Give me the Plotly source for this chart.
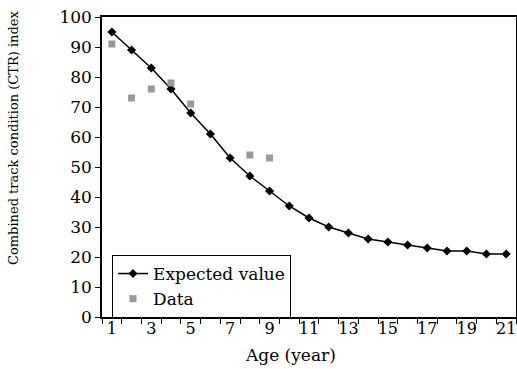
import plotly.graph_objects as go

age = list(range(1, 22))
expected = [95, 89, 83, 76, 68, 61, 53, 47, 42, 37, 33, 30, 28, 26, 25, 24, 23, 22, 22, 21, 21]
data_age = [1, 2, 3, 4, 5, 8, 9]
data_val = [91, 73, 76, 78, 71, 54, 53]
x_labels = [1, 3, 5, 7, 9, 11, 13, 15, 17, 19, 21]
y_ticks = list(range(0, 101, 10))

FONT = "DejaVu Serif"
L, R, T, B = 102, 1, 17, 52
PW, PH = 517 - L - R, 369 - T - B

fig = go.Figure()
fig.add_trace(go.Scatter(x=age, y=expected, mode="lines+markers", name="Expected value",
                         line=dict(color="black", width=1.5),
                         marker=dict(symbol="diamond", size=7, color="black")))
fig.add_trace(go.Scatter(x=data_age, y=data_val, mode="markers", name="Data",
                         marker=dict(symbol="square", size=7, color="#999999")))
# invisible trace on label axis
fig.add_trace(go.Scatter(x=[1], y=[0], xaxis="x2", mode="markers", opacity=0,
                         showlegend=False, hoverinfo="skip"))

fig.update_layout(
    width=517, height=369,
    margin=dict(l=L, r=R, t=T, b=B, autoexpand=False),
    plot_bgcolor="white", paper_bgcolor="white",
    font=dict(family=FONT, color="black", size=16),
    showlegend=True,
    legend=dict(x=(112 - L) / PW, y=(317 - 255) / PH, xanchor="left", yanchor="top",
                bordercolor="black", borderwidth=1, bgcolor="white",
                font=dict(size=17, family=FONT), tracegroupgap=0,
                itemwidth=30),
    xaxis=dict(range=[0.5, 21.5], tickmode="array",
               tickvals=[i + 0.5 for i in range(0, 22)], ticktext=[""] * 22,
               ticks="outside", ticklen=5, tickcolor="black",
               showline=True, linecolor="black", linewidth=1.5, mirror=True,
               showgrid=False, zeroline=False, automargin=False),
    xaxis2=dict(range=[0.5, 21.5], overlaying="x", side="bottom", tickmode="array",
                tickvals=x_labels, ticktext=[str(v) for v in x_labels],
                ticks="", showline=False, showgrid=False, zeroline=False,
                tickfont=dict(size=16, family=FONT), automargin=False),
    yaxis=dict(range=[0, 100], tickmode="array", tickvals=y_ticks,
               ticks="outside", ticklen=5, tickcolor="black",
               showline=True, linecolor="black", linewidth=1.5, mirror=True,
               showgrid=False, zeroline=False, tickfont=dict(size=17, family=FONT),
               automargin=False),
    annotations=[
        dict(text="Age (year)", xref="paper", yref="paper",
             x=(290 - L) / PW, y=(317 - 355) / PH, xanchor="center", yanchor="middle",
             showarrow=False, font=dict(size=17, family=FONT)),
        dict(text="Combined track condition (CTR) index", xref="paper", yref="paper",
             x=(13 - L) / PW, y=(317 - 138) / PH, xanchor="center", yanchor="middle",
             textangle=-90, showarrow=False, font=dict(size=13, family=FONT)),
    ],
)
fig.write_html("out.html", config={"displayModeBar": False},
               post_script="document.body.style.margin='0px';")
